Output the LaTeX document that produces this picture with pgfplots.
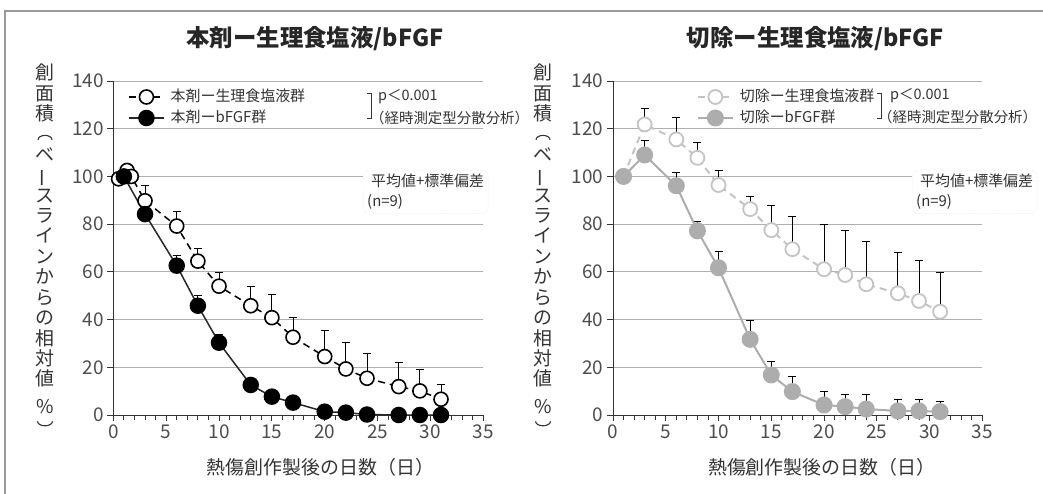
\documentclass[border=0pt]{standalone}
\usepackage{pgfplots}
\pgfplotsset{compat=1.18}
\usepackage{pgfplotstable}
\usepackage{fontspec}
\usepackage{graphicx}
\setmainfont{Noto Sans CJK JP}

\definecolor{txt}{HTML}{333333}
\definecolor{ticktxt}{HTML}{4D4D4D}
\definecolor{gridc}{HTML}{B0B0B0}
\definecolor{lopen}{HTML}{C4C4C4}
\definecolor{lfill}{HTML}{ADADAD}
\definecolor{framec}{HTML}{9A9A9A}

% left panel: saline (open) and bFGF (filled); e = +SD
\pgfplotstableread{
x y e
0.5 99 0
1.3 102.5 0
1.7 100 0
3 89.8 6.6
6 79.2 6.3
8 64.5 5.4
10 54 5.8
13 45.8 8.2
15 40.8 9.6
17 32.6 8.2
20 24.5 11.1
22 19.3 11.2
24 15.4 10.5
27 11.9 10
29 10.1 9
31 6.6 6.4
}\lsal
\pgfplotstableread{
x y e
1 100 0
3 84.2 1
6 62.6 4.2
8 45.8 4.5
10 30.3 3.5
13 12.6 1
15 7.7 1
17 5.2 1
20 1.4 0.5
22 1.0 0.5
24 0.2 0.3
27 0 0.2
29 0 0.2
31 0 0.2
}\lfgf
% right panel
\pgfplotstableread{
x y e
1 100 0
3 121.8 6.7
6 115.5 9.1
8 107.8 6.5
10 96.4 6.3
13 86.3 5.5
15 77.5 10.5
17 69.5 13.9
20 61.1 18.9
22 58.7 18.8
24 54.8 17.8
27 51.0 17.2
29 47.8 17.2
31 43.3 16.5
}\rsal
\pgfplotstableread{
x y e
1 100 0
3 109 6.3
6 96.1 5.5
8 77.2 4.1
10 61.7 7
13 31.7 8.1
15 16.8 5.8
17 9.8 6.5
20 4.2 5.9
22 3.5 5.3
24 2.5 6.2
27 1.7 4.9
29 1.7 4.9
31 1.4 4.2
}\rfgf

% vertical-writing brackets for the stacked y label
\newcommand{\archup}{\tikz[baseline=-1bp]\draw[line width=1.1bp, txt] (0,0) arc[start angle=180, end angle=0, x radius=7bp, y radius=4.5bp];}
\newcommand{\archdown}{\tikz[baseline=-1bp]\draw[line width=1.1bp, txt] (0,4.5bp) arc[start angle=180, end angle=360, x radius=7.5bp, y radius=4.5bp];}

\pgfplotsset{
  panel/.style={
    scale only axis, width=370bp, height=334bp,
    xmin=0, xmax=35, ymin=0, ymax=140,
    xtick={0,5,...,35}, ytick={0,20,...,140}, minor x tick num=4,
    axis x line*=bottom, axis y line*=left,
    axis line style={txt, line width=1bp},
    tick align=outside, major tick length=6bp, minor tick length=5bp,
    every tick/.style={txt, line width=0.9bp},
    ymajorgrids, grid style={gridc, line width=1bp},
    /pgf/number format/assume math mode=true,
    tick label style={font=\fontsize{19}{20}\selectfont, text=ticktxt},
    clip=false,
    title style={anchor=center, font=\fontsize{23.5}{26}\selectfont\bfseries, text=black!85},
    xlabel style={anchor=center, yshift=-52bp, font=\fontsize{19}{20}\selectfont, text=txt},
    ylabel style={rotate=-90, align=center, anchor=center, inner sep=0pt,
      font=\fontsize{19}{20.5}\selectfont, text=txt},
    ylabel={創\\面\\積\\\archup\\ベ\\\rotatebox[origin=c]{90}{ー}\\ス\\ラ\\イ\\ン\\か\\ら\\の\\相\\対\\値\\\raisebox{-7bp}{\%}\\\archdown},
    xlabel={熱傷創作製後の日数（日）},
    legend style={draw=none, fill=none, anchor=west, inner sep=0pt,
      font=\fontsize{15}{18}\selectfont, text=txt, row sep=4bp,
      nodes={inner sep=1bp, text height=12bp, text depth=3bp},
      /tikz/every odd column/.append style={column sep=5bp}},
    legend cell align=left,
    legend image code/.code={\draw[mark repeat=2,mark phase=2,##1] plot coordinates {(0bp,0bp) (17.5bp,0bp) (35bp,0bp)};},
    sdbar/.style={draw=none, forget plot, no marks,
      error bars/.cd, y dir=plus, y explicit,
      error bar style={draw=black, line width=0.8bp, solid},
      error mark options={rotate=90, draw=black, line width=0.8bp, mark size=4bp}},
  }
}

\begin{document}
\begin{tikzpicture}
\useasboundingbox (0,0) rectangle (1043bp,-494bp);
\draw[framec, line width=2bp] (5bp,-494bp) -- (5bp,-11bp) -- (1043bp,-11bp);

\begin{axis}[panel, at={(113.3bp,-415bp)}, anchor=south west,
  title={本剤ー生理食塩液/bFGF},
  title style={at={(axis description cs:0.545,1.108)}},
  xlabel style={at={(axis description cs:0.56,0)}},
  ylabel style={at={(axis description cs:-0.1846,0.508)}},
  legend style={at={(axis description cs:0.0397,0.9207)}}]
\addplot[sdbar] table[x=x, y=y, y error=e] {\lsal};
\addplot[sdbar] table[x=x, y=y, y error=e] {\lfgf};
\addplot[black, line width=1.5bp, dash pattern=on 7bp off 5bp, mark=*, mark size=7bp,
  mark options={solid, fill=white, draw=black, line width=1.6bp}] table[x=x, y=y] {\lsal};
\addlegendentry{本剤ー生理食塩液群}
\addplot[black!85, line width=1.5bp, mark=*, mark size=7.5bp,
  mark options={solid, fill=black, draw=black}] table[x=x, y=y] {\lfgf};
\addlegendentry{本剤ーbFGF群}
\end{axis}

\begin{axis}[panel, at={(613bp,-415bp)}, anchor=south west, width=369.3bp,
  title={切除ー生理食塩液/bFGF},
  title style={at={(axis description cs:0.548,1.108)}},
  xlabel style={at={(axis description cs:0.565,0)}},
  ylabel style={at={(axis description cs:-0.1895,0.508)}},
  legend style={at={(axis description cs:0.2266,0.9207)}}]
\addplot[sdbar] table[x=x, y=y, y error=e] {\rsal};
\addplot[sdbar] table[x=x, y=y, y error=e] {\rfgf};
\addplot[lopen, line width=2bp, dash pattern=on 7bp off 5bp, mark=*, mark size=7bp,
  mark options={solid, fill=white, draw=lopen, line width=1.8bp}] table[x=x, y=y] {\rsal};
\addlegendentry{切除ー生理食塩液群}
\addplot[lfill, line width=2bp, mark=*, mark size=7.5bp,
  mark options={solid, fill=lfill, draw=lfill}] table[x=x, y=y] {\rfgf};
\addlegendentry{切除ーbFGF群}
\end{axis}

% significance brackets and notes
\begin{scope}[txt, line width=0.8bp]
\draw (366.7bp,-93bp) -- (371.7bp,-93bp) -- (371.7bp,-118.5bp) -- (366.7bp,-118.5bp);
\draw (876.7bp,-93bp) -- (881.7bp,-93bp) -- (881.7bp,-118.5bp) -- (876.7bp,-118.5bp);
\end{scope}
\begin{scope}[every node/.style={text=txt, inner sep=0pt, anchor=west, font=\fontsize{14.5}{18}\selectfont}]
\node at (378bp,-96.7bp) {p＜0.001};
\node at (370bp,-118bp) {（経時測定型分散分析）};
\node at (890bp,-96bp) {p＜0.001};
\node at (878bp,-117bp) {（経時測定型分散分析）};
\end{scope}
\begin{scope}[every node/.style={draw=gray!25, densely dotted, rounded corners=6bp, fill=white,
  align=left, inner sep=4bp, anchor=north west, text=txt, font=\fontsize{15}{20}\selectfont}]
\node at (363bp,-170bp) {\hspace*{4bp}平均値+標準偏差\\(n=9)};
\node at (912bp,-170bp) {\hspace*{4bp}平均値+標準偏差\\(n=9)};
\end{scope}
\end{tikzpicture}
\end{document}
